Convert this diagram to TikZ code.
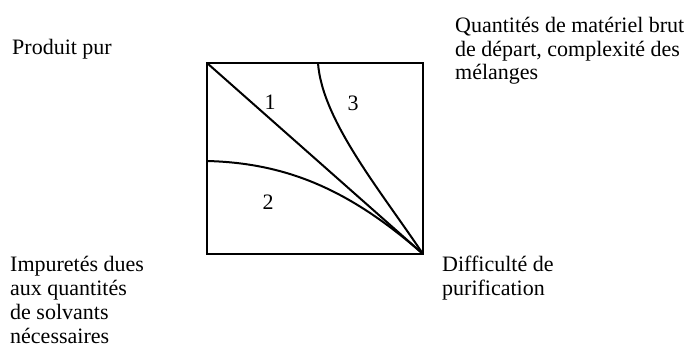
\documentclass[tikz,border=0pt]{standalone}
\usepackage{fontspec}
\setmainfont{Liberation Serif}
\begin{document}
\begin{tikzpicture}[x=1pt, y=1pt,
  lbl/.style={inner sep=0pt, anchor=base west, align=left, font=\fontsize{22}{24}\selectfont},
  num/.style={inner sep=0pt, font=\fontsize{22}{24}\selectfont},
  crv/.style={line width=2pt}
]
\useasboundingbox (0,0) rectangle (693,357);
% the square and its curves
\coordinate (tl) at (207,294);
\coordinate (br) at (423,103);
\coordinate (lft) at (207,196);
\coordinate (top) at (318,294);
\draw[crv] (tl) rectangle (br);
\draw[crv] (tl) -- (br);
\draw[crv] (lft) .. controls (287,194) and (350,167) .. (br);
\draw[crv] (top) .. controls (322,237) and (380,167) .. (br);
\node[num] (one) at (270,255) {1};
\node[num] (three) at (353,254) {3};
\node[num] (two) at (268,155) {2};
% corner texts (base = last line)
\node[lbl] (pur) at (12,302) {Produit pur};
\node[lbl] (qte) at (455,277) {Quantités de matériel brut\\de départ, complexité des\\mélanges};
\node[lbl] (imp) at (10,14) {Impuretés dues\\aux quantités\\de solvants\\nécessaires};
\node[lbl] (dif) at (442,62) {Difficulté de\\purification};
\end{tikzpicture}
\end{document}
